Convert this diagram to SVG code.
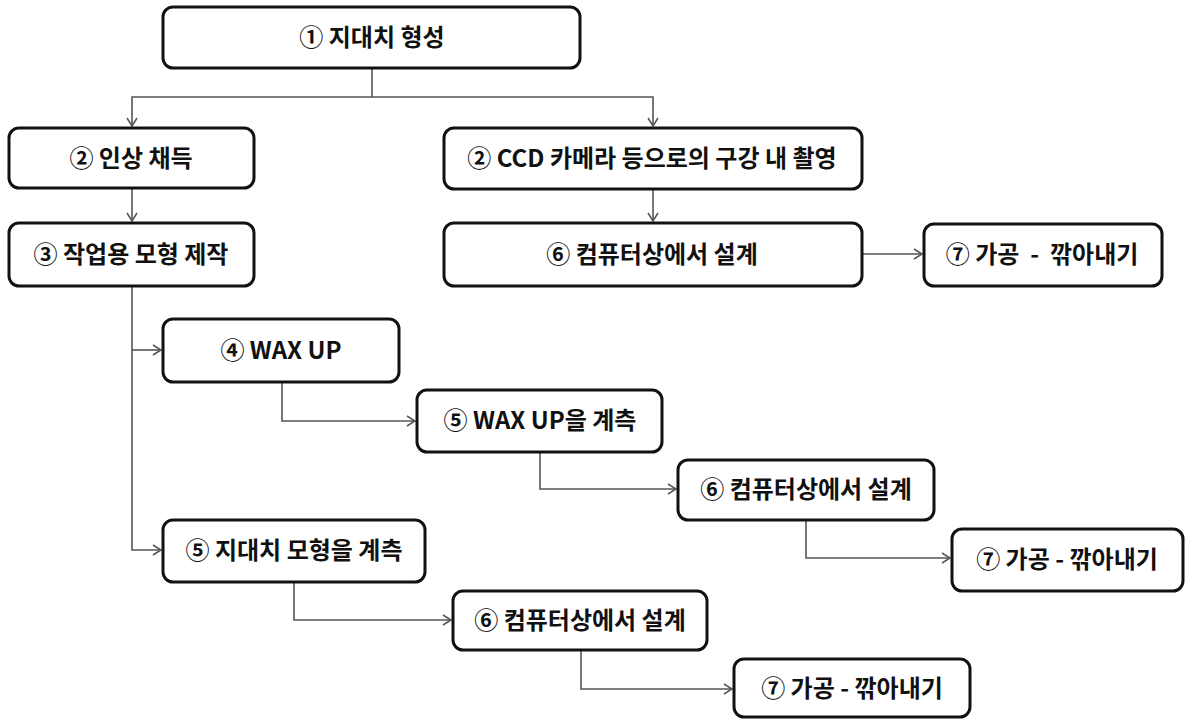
<svg xmlns="http://www.w3.org/2000/svg" width="1186" height="720" viewBox="0 0 1186 720">
<defs>
<marker id="arr" markerUnits="userSpaceOnUse" markerWidth="12" markerHeight="12" refX="9" refY="6" orient="auto">
<path d="M1,1 L9,6 L1,11" fill="none" stroke="#555" stroke-width="1.5"/>
</marker>
<style>
.box{fill:#fff;stroke:#111;stroke-width:3}
.lbl{font-family:"Noto Sans CJK KR","Noto Sans",sans-serif;font-weight:bold;font-size:24px;fill:#111;text-anchor:middle;white-space:pre}
.con{fill:none;stroke:#555;stroke-width:1.6}
</style>
</defs>
<rect width="1186" height="720" fill="#fff"/>
<g id="connectors">
<path class="con" d="M372,68 V97 H132 V126" marker-end="url(#arr)"/>
<path class="con" d="M372,97 H653 V126" marker-end="url(#arr)"/>
<path class="con" d="M132,188 V221" marker-end="url(#arr)"/>
<path class="con" d="M653,189 V221" marker-end="url(#arr)"/>
<path class="con" d="M862,254 H922" marker-end="url(#arr)"/>
<path class="con" d="M132,286 V550 H161" marker-end="url(#arr)"/>
<path class="con" d="M132,350 H161" marker-end="url(#arr)"/>
<path class="con" d="M282,382 V421 H415" marker-end="url(#arr)"/>
<path class="con" d="M540,452 V489 H676" marker-end="url(#arr)"/>
<path class="con" d="M806,520 V558 H950" marker-end="url(#arr)"/>
<path class="con" d="M294,582 V620 H451" marker-end="url(#arr)"/>
<path class="con" d="M581,650 V689 H732" marker-end="url(#arr)"/>
</g>
<g id="n1"><rect class="box" x="163" y="7" width="417" height="61" rx="10"/><text class="lbl" x="372" y="46">① 지대치 형성</text></g>
<g id="n2a"><rect class="box" x="9" y="128" width="245" height="60" rx="10"/><text class="lbl" x="131" y="167">② 인상 채득</text></g>
<g id="n2b"><rect class="box" x="444" y="128" width="418" height="61" rx="10"/><text class="lbl" x="652" y="167">② CCD 카메라 등으로의 구강 내 촬영</text></g>
<g id="n3"><rect class="box" x="9" y="223" width="245" height="63" rx="10"/><text class="lbl" x="131" y="263">③ 작업용 모형 제작</text></g>
<g id="n6r"><rect class="box" x="444" y="223" width="418" height="63" rx="10"/><text class="lbl" x="652" y="263">⑥ 컴퓨터상에서 설계</text></g>
<g id="n7r"><rect class="box" x="924" y="224" width="238" height="62" rx="10"/><text class="lbl" x="1042" y="263">⑦ 가공  -  깎아내기</text></g>
<g id="n4"><rect class="box" x="163" y="319" width="236" height="63" rx="10"/><text class="lbl" x="281" y="359">④ WAX UP</text></g>
<g id="n5a"><rect class="box" x="417" y="390" width="245" height="62" rx="10"/><text class="lbl" x="540" y="429">⑤ WAX UP을 계측</text></g>
<g id="n6a"><rect class="box" x="678" y="460" width="256" height="60" rx="10"/><text class="lbl" x="806" y="498">⑥ 컴퓨터상에서 설계</text></g>
<g id="n7a"><rect class="box" x="952" y="529" width="231" height="62" rx="10"/><text class="lbl" x="1067" y="568">⑦ 가공 - 깎아내기</text></g>
<g id="n5b"><rect class="box" x="163" y="520" width="262" height="62" rx="10"/><text class="lbl" x="294" y="559">⑤ 지대치 모형을 계측</text></g>
<g id="n6b"><rect class="box" x="453" y="591" width="254" height="59" rx="10"/><text class="lbl" x="580" y="629">⑥ 컴퓨터상에서 설계</text></g>
<g id="n7b"><rect class="box" x="734" y="659" width="236" height="58" rx="10"/><text class="lbl" x="852" y="697">⑦ 가공 - 깎아내기</text></g>
</svg>
